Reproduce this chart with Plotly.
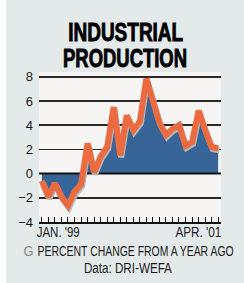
import json
import plotly.graph_objects as go
import pandas as pd

# ---- data ----
months = [d.strftime("%b %Y") for d in pd.date_range("1999-01-01", "2001-04-01", freq="MS")]
pct_change = [-0.6, -1.9, -0.8, -1.9, -2.65, -1.5, -0.9, 2.5, 0.1, 1.4,
              2.2, 5.5, 1.5, 4.8, 3.6, 4.3, 7.85, 6.0, 4.2, 3.2,
              3.7, 4.0, 2.3, 2.6, 5.2, 3.6, 2.2, 2.1, 0.2]
first_label = "JAN. '99"
last_label = "APR. '01"
title_lines = ["INDUSTRIAL", "PRODUCTION"]
icon = "G"
subtitle = "PERCENT CHANGE FROM A YEAR AGO"
source = "Data: DRI-WEFA"

# ---- geometry ----
W, H = 244, 283
L, R, T, B = 39, 23, 72, 61
pw, ph = W - L - R, H - T - B
idx = list(range(len(months)))
xr = [-0.43, len(months) - 1 + 0.43]
yr = [-4, 8.4]
px_x = (xr[1] - xr[0]) / pw
px_y = (yr[1] - yr[0]) / ph

ORANGE = "#ec6a3f"
BLUE = "#386597"
SHADOW = "#b3b3b3"
PAPER = "#e4eaea"
PLOT = "#f6f5f3"
FONT = "Liberation Sans, Arial, sans-serif"

def py(p):  # pixel y -> paper y
    return (H - B - p) / ph

def pxx(p):  # pixel x -> paper x
    return (p - L) / pw

fig = go.Figure()
fig.add_trace(go.Scatter(x=idx, y=pct_change, mode="lines", fill="tozeroy",
                         fillcolor=BLUE, line=dict(width=0, color=BLUE),
                         hoverinfo="skip", showlegend=False))
fig.add_trace(go.Scatter(x=xr, y=[0, 0], mode="lines",
                         line=dict(color="#111111", width=2),
                         hoverinfo="skip", showlegend=False))
fig.add_trace(go.Scatter(x=idx, y=pct_change, mode="lines", xaxis="x2", yaxis="y2",
                         line=dict(color=SHADOW, width=6),
                         hoverinfo="skip", showlegend=False, cliponaxis=False))
fig.add_trace(go.Scatter(x=idx, y=pct_change, mode="lines", xaxis="x3", yaxis="y3",
                         line=dict(color=ORANGE, width=6),
                         hoverinfo="skip", showlegend=False, cliponaxis=False))

fig.update_layout(
    width=W, height=H,
    margin=dict(l=L, r=R, t=T, b=B, pad=0),
    paper_bgcolor=PAPER, plot_bgcolor=PLOT,
    font=dict(family=FONT, color="#1a1a1a"),
    xaxis=dict(range=xr, showgrid=False, zeroline=False, showline=True,
               linecolor="#111111", linewidth=2, ticks="inside", ticklen=5,
               tickwidth=1, tickcolor="#111111", tickmode="linear", tick0=0, dtick=1,
               showticklabels=False, fixedrange=True),
    yaxis=dict(range=yr, tickmode="linear", tick0=-4, dtick=2, showgrid=True,
               gridcolor="#2a2a2a", gridwidth=1.5, zeroline=False, showline=False,
               ticks="", tickfont=dict(family=FONT, size=13, color="#1a1a1a"),
               ticklabelstandoff=5, fixedrange=True),
    xaxis2=dict(range=[xr[0] - 1 * px_x, xr[1] - 1 * px_x], overlaying="x",
                visible=False, fixedrange=True),
    yaxis2=dict(range=[yr[0] + 2 * px_y, yr[1] + 2 * px_y], overlaying="y",
                visible=False, fixedrange=True),
    xaxis3=dict(range=xr, overlaying="x", visible=False, fixedrange=True),
    yaxis3=dict(range=yr, overlaying="y", visible=False, fixedrange=True),
    shapes=[dict(type="rect", xref="paper", yref="paper", x0=pxx(0), x1=pxx(6),
                 y0=py(H), y1=py(0), fillcolor="white", line=dict(width=0), layer="below")],
)

# text, centre x, centre y (px), size, colour, target width (px) for a condensed look
ann = [
    (f"<b>{title_lines[0]}</b>", 125.5, 32.5, 25, "black", 115),
    (f"<b>{title_lines[1]}</b>", 125.0, 57.5, 25, "black", 124),
    (first_label, 58.5, 232, 14, "#1a1a1a", 43),
    (last_label, 198.0, 232, 14, "#1a1a1a", 46),
    (icon, 28.0, 251, 14, "#8a8a8a", 10),
    (subtitle, 135.0, 251, 14, "#1a1a1a", 196),
    (source, 127.5, 267.5, 14, "#1a1a1a", 88),
]
widths = []
for text, cx, cy, size, color, w in ann:
    fig.add_annotation(xref="paper", yref="paper", showarrow=False, x=pxx(cx), y=py(cy),
                       xanchor="center", yanchor="middle", text=text,
                       font=dict(size=size, color=color, family=FONT))
    widths.append(w)

post = """
document.body.style.margin = '0';
document.body.style.overflow = 'hidden';
var gd = document.getElementById('{plot_id}');
var W = %s;
function fit(){
  var gs = gd.querySelectorAll('g.annotation');
  gs.forEach(function(g){
    var i = parseInt(g.getAttribute('data-index'));
    var t = g.querySelector('text.annotation-text');
    if (!t || isNaN(i) || W[i] === undefined) return;
    t.setAttribute('textLength', W[i]);
    t.setAttribute('lengthAdjust', 'spacingAndGlyphs');
    if (i < 2) { t.style.stroke = 'black'; t.style.strokeWidth = '0.9px'; }
  });
}
fit(); setTimeout(fit, 50); setTimeout(fit, 400);
if (gd.on) gd.on('plotly_afterplot', fit);
""" % json.dumps(widths)

fig.write_html("out.html", post_script=post, config={"displayModeBar": False, "staticPlot": True})
